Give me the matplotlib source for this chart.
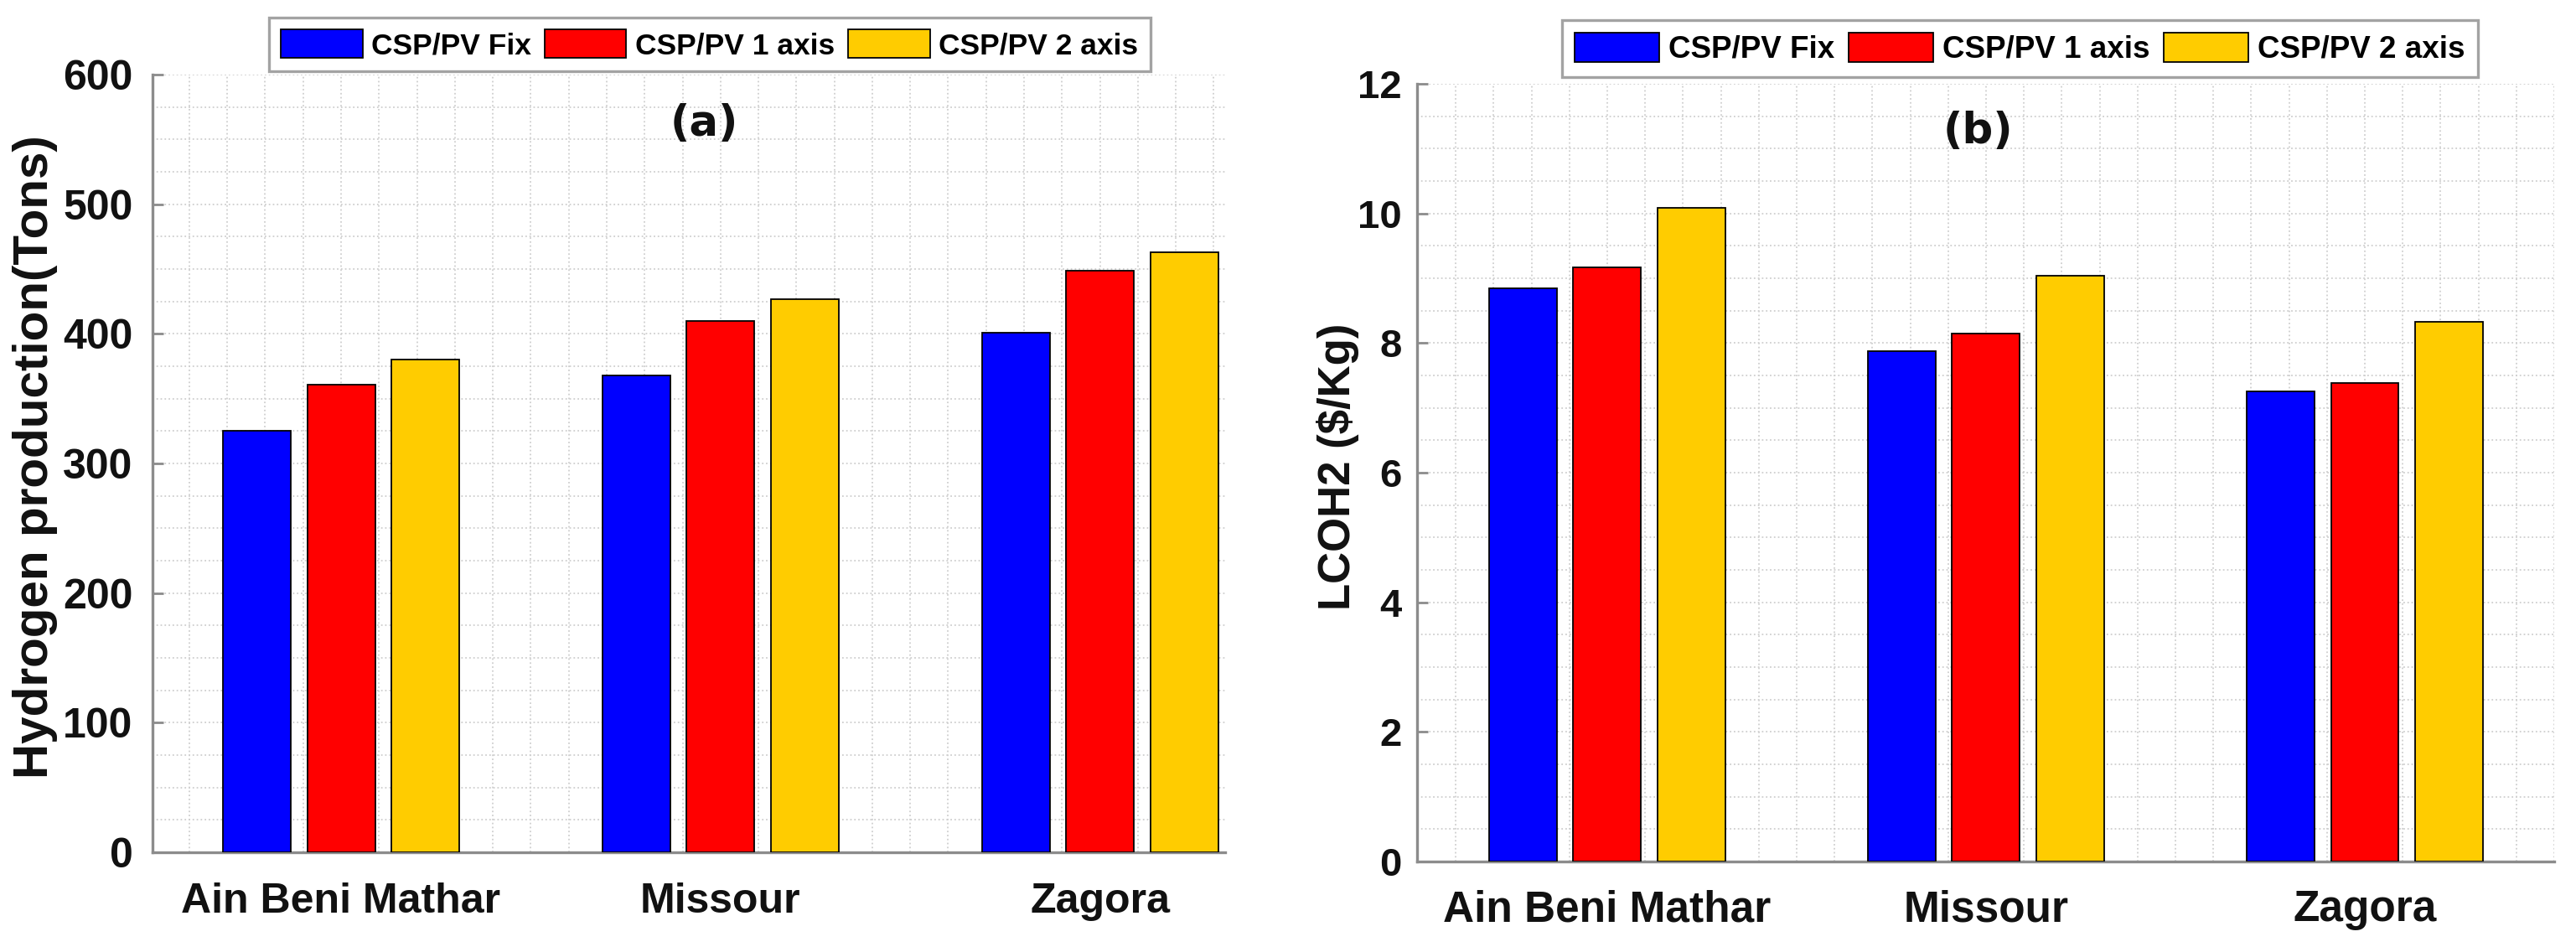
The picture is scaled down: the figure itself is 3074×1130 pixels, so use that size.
import numpy as np
import matplotlib
matplotlib.use("Agg")
import matplotlib.pyplot as plt
from matplotlib.ticker import MultipleLocator

# data
sites = ['Ain Beni Mathar', 'Missour', 'Zagora']
series_names = ['CSP/PV Fix', 'CSP/PV 1 axis', 'CSP/PV 2 axis']
h2_fix = [325, 368, 401]
h2_1axis = [361, 410, 449]
h2_2axis = [380, 427, 463]
lcoh_fix = [8.85, 7.87, 7.26]
lcoh_1axis = [9.17, 8.15, 7.39]
lcoh_2axis = [10.09, 9.04, 8.33]

colors = ['#0000FF', '#FF0000', '#FFCC00']
W, H = 3074, 1130
grey = '#8c8c8c'

fig = plt.figure(figsize=(W / 100, H / 100), dpi=100)
plt.rcParams['font.family'] = ['Liberation Sans', 'DejaVu Sans']


def px_ax(left, top, right, bottom):
    return [left / W, 1 - bottom / H, (right - left) / W, (bottom - top) / H]


def draw_panel(ax, data, ymax, ymaj, ymin, xlim, tag, tagpos, ytick_size, xtick_size, xpad, ypad):
    x = np.arange(1, len(sites) + 1)
    bw = 0.179
    step = 0.222
    for i, vals in enumerate(data):
        ax.bar(x + (i - 1) * step, vals, bw, color=colors[i], edgecolor='black',
               linewidth=1.3, label=series_names[i], zorder=3)
    ax.set_xlim(*xlim)
    ax.set_ylim(0, ymax)
    ax.set_xticks(x)
    ax.set_xticklabels(sites)
    ax.yaxis.set_major_locator(MultipleLocator(ymaj))
    ax.yaxis.set_minor_locator(MultipleLocator(ymin))
    ax.xaxis.set_minor_locator(MultipleLocator(0.1))
    ax.set_axisbelow(True)
    ax.grid(which='both', linestyle=':', color='#cfcfcf', linewidth=1.3)
    for s in ['top', 'right']:
        ax.spines[s].set_visible(False)
    for s in ['left', 'bottom']:
        ax.spines[s].set_color(grey)
        ax.spines[s].set_linewidth(2.4)
    ax.tick_params(axis='y', which='major', direction='in', length=9, width=2,
                   color=grey, labelsize=ytick_size, pad=ypad)
    ax.tick_params(axis='x', which='major', length=0, labelsize=xtick_size, pad=xpad)
    ax.tick_params(which='minor', length=0)
    for lab in ax.get_xticklabels() + ax.get_yticklabels():
        lab.set_fontweight('bold')
        lab.set_color('#111111')
    ax.text(tagpos[0], tagpos[1], tag, transform=ax.transAxes, ha='center', va='center',
            fontsize=37, fontweight='bold', family='DejaVu Sans', color='#111111')


ax1 = fig.add_axes(px_ax(182, 89, 1462, 1017))
draw_panel(ax1, [h2_fix, h2_1axis, h2_2axis], 600, 100, 25, (0.503, 3.33), '(a)',
           (0.514, 0.936), 36, 36, 26, 17)
ax2 = fig.add_axes(px_ax(1691, 100, 3048, 1028))
draw_panel(ax2, [lcoh_fix, lcoh_1axis, lcoh_2axis], 12, 2, 0.5, (0.498, 3.5), '(b)',
           (0.493, 0.939), 34, 37, 24, 13)

fig.text(42 / W, 1 - 545 / H, 'Hydrogen production(Tons)', rotation=90, ha='center', va='center',
         fontsize=42, fontweight='bold', color='#111111')
fig.text(1596 / W, 1 - 557 / H, 'LCOH2 ($/Kg)', rotation=90, ha='center', va='center',
         fontsize=38, fontweight='bold', color='#111111')

for ax, (lx, ly), fs in [(ax1, (321, 21), 25.5), (ax2, (1864, 24), 26.5)]:
    leg = ax.legend(loc='upper left', bbox_to_anchor=(lx / W, 1 - ly / H),
                    bbox_transform=fig.transFigure, ncol=3,
                    prop={'weight': 'bold', 'size': fs}, frameon=True, fancybox=False,
                    borderaxespad=0, borderpad=0.4, handlelength=2.75, handleheight=1.1,
                    handletextpad=0.3, columnspacing=0.45)
    leg.get_frame().set_edgecolor(grey)
    leg.get_frame().set_linewidth(2.4)

fig.savefig('out.png', dpi=100)
